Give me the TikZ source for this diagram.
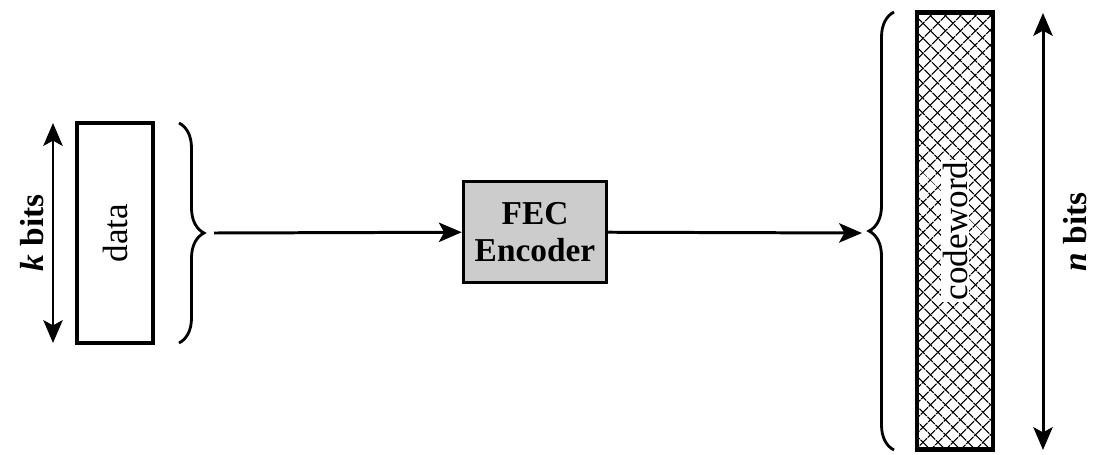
\documentclass[tikz,border=0pt]{standalone}
\usepackage{fontspec}
\setmainfont{Liberation Serif}
\usetikzlibrary{arrows.meta,decorations.pathreplacing,patterns.meta}

\tikzset{
  block/.style={draw, line width=2pt, inner sep=0pt},
  sizearrow/.style={<->, line width=1.7pt},
  bigbrace/.style={decorate, line width=1.6pt,
    decoration={brace, amplitude=0.5cm}},
  hatch/.style={pattern={Lines[angle=45,distance=6.5pt,line width=0.8pt]},
    postaction={pattern={Lines[angle=-45,distance=6.5pt,line width=0.8pt]}}},
}

\begin{document}
\begin{tikzpicture}[x=0.02cm, y=-0.02cm,
    >={Stealth[length=13pt, width=11pt, inset=3pt]}]
  \useasboundingbox (0,0) rectangle (1093,454);

  % input block
  \node[block, minimum width=1.52cm, minimum height=4.4cm] (data) at (115,233) {};
  \node[rotate=90, font=\fontsize{20}{22}\selectfont] (datatext) at (115,233) {data};
  \coordinate (ktop) at (53,123);
  \coordinate (kbot) at (53,343);
  \draw[sizearrow] (ktop) -- (kbot);
  \node[rotate=90, font=\fontsize{19}{21}\selectfont\bfseries] (klabel) at (32,233) {\textit{k} bits};
  \draw[bigbrace] (179,123) -- (179,343);
  \coordinate (dtip) at (214,233);

  % encoder
  \node[block, fill=black!20, minimum width=2.86cm, minimum height=2.02cm,
        align=center, font=\fontsize{19}{21}\selectfont\bfseries] (fec) at (535,232) {FEC\\Encoder};

  % output block
  \node[block, line width=2.5pt, hatch, minimum width=1.52cm, minimum height=8.74cm] (code) at (955,231) {};
  \node[rotate=90, fill=white, inner sep=1pt, font=\fontsize{20}{22}\selectfont] (codetext) at (955,231) {codeword};
  \draw[bigbrace] (894,450) -- (894,12);
  \coordinate (ctip) at (862,233);
  \coordinate (ntop) at (1043,13);
  \coordinate (nbot) at (1043,450);
  \draw[sizearrow] (ntop) -- (nbot);
  \node[rotate=90, font=\fontsize{19}{21}\selectfont\bfseries] (nlabel) at (1075,232) {\textit{n} bits};

  \draw[->, line width=1.7pt] (dtip) -- (fec);
  \draw[->, line width=1.7pt] (fec) -- (ctip);
\end{tikzpicture}
\end{document}
